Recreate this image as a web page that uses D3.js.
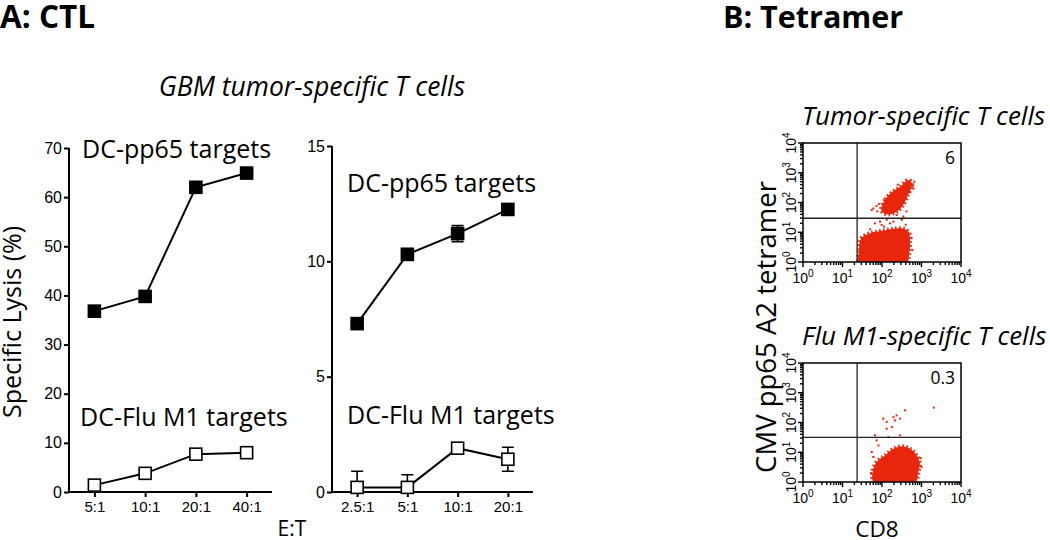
<!DOCTYPE html>
<html><head><meta charset="utf-8">
<script src="https://cdn.jsdelivr.net/npm/d3@7"></script>
<style>body{margin:0;background:#fff}svg{display:block}</style></head>
<body>
<svg id="c" width="1050" height="540"></svg>
<script>
// ---------- Data ----------
const catsA = ["5:1", "10:1", "20:1", "40:1"];
const pp65A = [36.8, 39.8, 62.0, 64.9];
const fluA = [1.4, 3.8, 7.7, 8.0];
const yTicksA = [0, 10, 20, 30, 40, 50, 60, 70];

const catsB = ["2.5:1", "5:1", "10:1", "20:1"];
const pp65B = [7.3, 10.3, 11.2, 12.25];
const pp65BErr = [0, 0.25, 0.35, 0];
const fluB = [0.2, 0.2, 1.9, 1.42];
const fluBErr = [0.7, 0.55, 0, 0.52];
const yTicksB = [0, 5, 10, 15];

const flowDecades = [0, 1, 2, 3, 4];          // log10 tick exponents
const flowGateX = [1.37, 1.37];               // log10 CD8 gate (tumor, flu)
const flowGateY = [1.47, 1.5];                // log10 tetramer gate
const flowPercent = ["6", "0.3"];
const flowTitles = ["Tumor-specific T cells", "Flu M1-specific T cells"];

// cluster outlines [log10 CD8, log10 tetramer]
const tumorNegCluster = [[1.42,0],[1.42,0.4],[1.43,0.64],[1.5,0.84],[1.7,0.97],[2.0,1.05],[2.3,1.12],[2.55,1.12],[2.68,1.0],[2.71,0.6],[2.68,0.2],[2.64,0]];
const tumorPosCluster = [[1.98,1.8],[2.08,2.1],[2.25,2.35],[2.45,2.52],[2.66,2.76],[2.76,2.64],[2.66,2.25],[2.52,1.88],[2.36,1.68],[2.16,1.6],[2.02,1.66]];
const tumorSparse = [[1.78,1.80],[1.86,1.88],[1.74,1.75],[1.95,1.36],[1.82,1.30],[2.12,1.42],[2.50,1.42],[2.29,1.36],[2.80,2.47],[2.71,2.36],[2.54,1.53],[2.37,1.58],[2.20,1.30],[2.78,2.55],[1.99,1.25],[2.05,1.19],[1.70,1.10],[2.60,1.25],[2.75,0.8],[2.77,0.4],[1.92,1.95],[2.40,2.60],[1.88,1.7],[2.62,1.7],[2.82,2.7]];
const fluNegCluster = [[1.79,0],[1.77,0.39],[1.86,0.67],[2.08,0.90],[2.29,1.12],[2.50,1.20],[2.71,1.12],[2.88,0.90],[2.96,0.62],[2.92,0.34],[2.84,0]];
const fluSparse = [[2.03,2.13],[2.12,2.02],[2.29,2.18],[2.33,2.07],[2.37,2.24],[2.46,2.13],[2.58,2.41],[2.25,1.85],[2.12,1.79],[1.82,1.57],[1.86,1.40],[2.16,1.51],[2.46,1.57],[3.31,2.50],[1.74,1.01],[1.78,0.84],[1.91,1.23],[3.0,0.5],[2.98,0.8],[1.72,0.3]];

// ---------- Setup ----------
const svg = d3.select("#c");
const SANS = "'Open Sans', 'Noto Sans', sans-serif";
const ARIAL = "'Liberation Sans', Arial, sans-serif";

function txt(x, y, s, size, opts = {}) {
  const t = svg.append("text").attr("x", x).attr("y", y).text(s)
    .style("font-family", opts.family || SANS).style("font-size", size + "px")
    .attr("fill", "#000");
  if (opts.weight) t.style("font-weight", opts.weight);
  if (opts.style) t.style("font-style", opts.style);
  if (opts.anchor) t.attr("text-anchor", opts.anchor);
  if (opts.rotate) t.attr("transform", `rotate(${opts.rotate},${x},${y})`);
  return t;
}

// Headings
txt(0, 28, "A: CTL", 31.5, {weight: 700});
txt(723, 28, "B: Tetramer", 30.5, {weight: 700});
txt(312, 96, "GBM tumor-specific T cells", 26.5, {style: "italic", anchor: "middle"});

// ---------- Line chart panel ----------
function linePanel(cfg) {
  const g = svg.append("g");
  const x = d3.scalePoint().domain(cfg.cats).range([cfg.x0, cfg.x1]).padding(0.5);
  const y = d3.scaleLinear().domain(cfg.yDomain).range([cfg.yBottom, cfg.yTop]);

  const yAxis = g.append("g").attr("transform", `translate(${cfg.x0},0)`)
    .call(d3.axisLeft(y).tickValues(cfg.yTicks).tickSize(5).tickSizeOuter(0).tickPadding(2));
  yAxis.attr("font-size", null).attr("font-family", null);
  yAxis.select(".domain").attr("stroke-width", 2).attr("d", `M0,${cfg.yBottom}V${cfg.yTop}`);
  yAxis.selectAll(".tick line").attr("stroke-width", 2);
  yAxis.selectAll(".tick text").style("font-family", ARIAL).style("font-size", "16px").attr("fill", "#000");

  const xAxis = g.append("g").attr("transform", `translate(0,${cfg.yBottom})`)
    .call(d3.axisBottom(x).tickSize(5).tickSizeOuter(0).tickPadding(4));
  xAxis.attr("font-size", null).attr("font-family", null);
  xAxis.select(".domain").attr("stroke-width", 2).attr("d", `M${cfg.x0},0H${cfg.x1}`);
  xAxis.selectAll(".tick line").attr("stroke-width", 2);
  xAxis.selectAll(".tick text").style("font-family", ARIAL).style("font-size", "15px").attr("fill", "#000");

  const line = d3.line().x((d, i) => x(cfg.cats[i])).y(d => y(d));
  cfg.series.forEach(s => {
    g.append("path").datum(s.values).attr("d", line)
      .attr("fill", "none").attr("stroke", "#000").attr("stroke-width", 2);
    if (s.err) {
      s.values.forEach((v, i) => {
        const e = s.err[i];
        if (!e) return;
        const cx = x(cfg.cats[i]);
        const lo = Math.max(cfg.yDomain[0], v - e), hi = v + e;
        g.append("path").attr("d", `M${cx},${y(lo)}V${y(hi)}M${cx-6},${y(hi)}H${cx+6}` + (v - e >= cfg.yDomain[0] ? `M${cx-6},${y(lo)}H${cx+6}` : ""))
          .attr("stroke", "#000").attr("stroke-width", 1.6).attr("fill", "none");
      });
    }
    const sz = 12;
    g.selectAll(null).data(s.values).join("rect")
      .attr("x", (d, i) => x(cfg.cats[i]) - sz / 2).attr("y", d => y(d) - sz / 2)
      .attr("width", sz).attr("height", sz)
      .attr("fill", s.filled ? "#000" : "#fff").attr("stroke", "#000").attr("stroke-width", 1.6);
  });
  cfg.labels.forEach(l => txt(l.x, l.y, l.text, 25));
}

linePanel({
  cats: catsA, x0: 69, x1: 272, yBottom: 492, yTop: 148, yDomain: [0, 70], yTicks: yTicksA,
  series: [{values: pp65A, filled: true}, {values: fluA, filled: false}],
  labels: [{x: 82, y: 158, text: "DC-pp65 targets"}, {x: 80, y: 426, text: "DC-Flu M1 targets"}]
});
linePanel({
  cats: catsB, x0: 332, x1: 533, yBottom: 492, yTop: 146, yDomain: [0, 15], yTicks: yTicksB,
  series: [{values: pp65B, err: pp65BErr, filled: true}, {values: fluB, err: fluBErr, filled: false}],
  labels: [{x: 347, y: 192, text: "DC-pp65 targets"}, {x: 347, y: 424, text: "DC-Flu M1 targets"}]
});

txt(21, 322, "Specific Lysis (%)", 25, {anchor: "middle", rotate: -90});
txt(292, 536, "E:T", 21, {anchor: "middle"});

// ---------- Flow plots ----------
const RED = "#e8260c";
function flowPanel(cfg) {
  const g = svg.append("g");
  const x = d3.scaleLog().domain([1, 1e4]).range([cfg.x0, cfg.x1]);
  const y = d3.scaleLog().domain([1, 1e4]).range([cfg.y1, cfg.y0]);
  const P = d => [x(Math.pow(10, d[0])), y(Math.pow(10, d[1]))];

  // clusters (dashed outline gives a speckled edge)
  const area = d3.line().curve(d3.curveCatmullRomClosed.alpha(0.5));
  cfg.clusters.forEach(c => {
    g.append("path").attr("d", area(c.map(P))).attr("fill", RED)
      .attr("stroke", RED).attr("stroke-width", 4).attr("stroke-dasharray", "1.5,2.5");
  });
  g.selectAll(null).data(cfg.sparse).join("rect")
    .attr("x", d => P(d)[0] - 1).attr("y", d => P(d)[1] - 1)
    .attr("width", 2).attr("height", 2).attr("fill", RED);
  // clip bottom of clusters to frame
  g.append("rect").attr("x", cfg.x0 - 20).attr("y", cfg.y1).attr("width", cfg.x1 - cfg.x0 + 40).attr("height", 14).attr("fill", "#fff");

  // gates
  g.append("line").attr("x1", x(Math.pow(10, cfg.gx))).attr("x2", x(Math.pow(10, cfg.gx)))
    .attr("y1", cfg.y0).attr("y2", cfg.y1).attr("stroke", "#222").attr("stroke-width", 1.3);
  g.append("line").attr("x1", cfg.x0).attr("x2", cfg.x1)
    .attr("y1", y(Math.pow(10, cfg.gy))).attr("y2", y(Math.pow(10, cfg.gy))).attr("stroke", "#222").attr("stroke-width", 1.3);

  // frame
  g.append("rect").attr("x", cfg.x0).attr("y", cfg.y0).attr("width", cfg.x1 - cfg.x0).attr("height", cfg.y1 - cfg.y0)
    .attr("fill", "none").attr("stroke", "#000").attr("stroke-width", 1.5);

  // ticks
  const tks = x.ticks();
  const isMajor = v => Math.abs(Math.log10(v) - Math.round(Math.log10(v))) < 1e-9;
  g.selectAll(null).data(tks).join("line")
    .attr("x1", d => x(d)).attr("x2", d => x(d))
    .attr("y1", cfg.y1).attr("y2", d => cfg.y1 + (isMajor(d) ? 5 : 3))
    .attr("stroke", "#000").attr("stroke-width", 1.4);
  g.selectAll(null).data(tks).join("line")
    .attr("y1", d => y(d)).attr("y2", d => y(d))
    .attr("x1", cfg.x0).attr("x2", d => cfg.x0 - (isMajor(d) ? 5 : 3))
    .attr("stroke", "#000").attr("stroke-width", 1.4);

  // tick labels
  flowDecades.forEach(k => {
    const t = g.append("text").attr("x", x(Math.pow(10, k))).attr("y", cfg.y1 + 21)
      .attr("text-anchor", "middle").style("font-family", ARIAL).style("font-size", "14px");
    t.append("tspan").text("10");
    t.append("tspan").text(k).style("font-size", "10px").attr("dy", -6);
    const yy = y(Math.pow(10, k));
    const t2 = g.append("text").attr("x", cfg.x0 - 7).attr("y", yy)
      .attr("text-anchor", "middle").style("font-family", ARIAL).style("font-size", "14px")
      .attr("transform", `rotate(-90,${cfg.x0 - 7},${yy})`);
    t2.append("tspan").text("10");
    t2.append("tspan").text(k).style("font-size", "10px").attr("dy", -6);
  });

  txt(cfg.x1 - 6, cfg.y0 + 21, cfg.pct, 17.5, {anchor: "end"});
  txt(cfg.x0 - 1, cfg.y0 - 18, cfg.title, 26, {style: "italic"});
}

flowPanel({x0: 803, x1: 961, y0: 143, y1: 262, gx: flowGateX[0], gy: flowGateY[0],
  clusters: [tumorNegCluster, tumorPosCluster], sparse: tumorSparse, pct: flowPercent[0], title: flowTitles[0]});
flowPanel({x0: 803, x1: 961, y0: 363, y1: 482, gx: flowGateX[1], gy: flowGateY[1],
  clusters: [fluNegCluster], sparse: fluSparse, pct: flowPercent[1], title: flowTitles[1]});

txt(877, 537, "CD8", 22.5, {anchor: "middle"});
txt(776, 327, "CMV pp65 A2 tetramer", 27.5, {anchor: "middle", rotate: -90});
</script>
</body></html>
